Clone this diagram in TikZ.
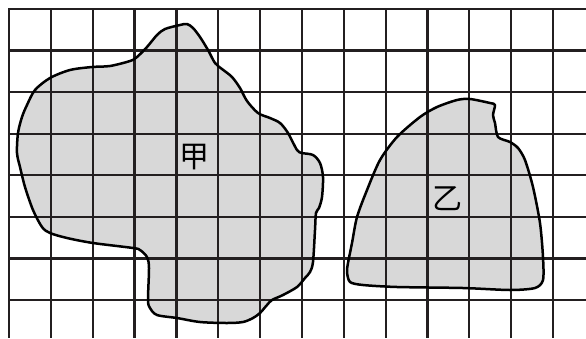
\documentclass[tikz,border=0pt]{standalone}
\usepackage{fontspec}
\newfontfamily\cjk{Noto Sans CJK SC}
\definecolor{gridc}{HTML}{231F20}
\definecolor{fillc}{HTML}{D8D8D8}
\tikzset{
  gridline/.style={draw=gridc, line width=2.2pt},
  blob/.style={draw=black, line width=2.5pt, line join=round},
  lbl/.style={font=\cjk\fontsize{30}{30}\selectfont, text=black, inner sep=0pt}
}
\begin{document}
\begin{tikzpicture}[x=1pt,y=-1pt]
\useasboundingbox (0,0) rectangle (586,338);
% fills
\fill[fillc] plot[smooth cycle, tension=0.5] coordinates {
(17,153) (18,133) (22,117) (27,105) (35,90) (50,78) (70,70) (92,67) (110,66) (130,61) (137,57) (147,47) (157,35) (165,29) (180,25) (187,24) (193,28) (200,37) (208,50) (215,63) (222,69) (232,77) (240,88) (247,101) (258,113) (270,118) (280,123) (288,133) (297,150) (302,153) (313,155) (320,163) (323,177) (322,197) (319,208) (316,213) (315,230) (313,262) (310,272) (305,278) (297,287) (283,295) (272,300) (267,305) (260,313) (253,318) (243,322) (227,323) (200,322) (177,318) (157,315) (150,308) (148,300) (149,268) (147,257) (140,250) (133,248) (93,243) (67,238) (50,233) (42,227) (33,210) (25,187) (20,167)};
\fill[fillc] plot[smooth cycle, tension=0.45] coordinates {
(347,272) (348,263) (352,243) (357,217) (367,190) (380,160) (397,137) (420,117) (437,107) (457,100) (470,99) (490,103) (495,105) (493,115) (495,123) (498,137) (510,142) (518,148) (525,160) (533,187) (540,223) (543,257) (543,280) (535,288) (510,290) (463,288) (397,287) (363,285) (350,282)};
% grid
\foreach \k in {0,...,13} {
  \draw[gridline] ({9+41.85*\k},8) -- ({9+41.85*\k},338);
}
\foreach \k in {0,...,7} {
  \draw[gridline] (8,{9+41.57*\k}) -- (586,{9+41.57*\k});
}
% outlines
\draw[blob] plot[smooth cycle, tension=0.5] coordinates {
(17,153) (18,133) (22,117) (27,105) (35,90) (50,78) (70,70) (92,67) (110,66) (130,61) (137,57) (147,47) (157,35) (165,29) (180,25) (187,24) (193,28) (200,37) (208,50) (215,63) (222,69) (232,77) (240,88) (247,101) (258,113) (270,118) (280,123) (288,133) (297,150) (302,153) (313,155) (320,163) (323,177) (322,197) (319,208) (316,213) (315,230) (313,262) (310,272) (305,278) (297,287) (283,295) (272,300) (267,305) (260,313) (253,318) (243,322) (227,323) (200,322) (177,318) (157,315) (150,308) (148,300) (149,268) (147,257) (140,250) (133,248) (93,243) (67,238) (50,233) (42,227) (33,210) (25,187) (20,167)};
\draw[blob] plot[smooth cycle, tension=0.45] coordinates {
(347,272) (348,263) (352,243) (357,217) (367,190) (380,160) (397,137) (420,117) (437,107) (457,100) (470,99) (490,103) (495,105) (493,115) (495,123) (498,137) (510,142) (518,148) (525,160) (533,187) (540,223) (543,257) (543,280) (535,288) (510,290) (463,288) (397,287) (363,285) (350,282)};
% labels
\node[lbl] (jia) at (194,157) {甲};
\node[lbl] (yi) at (447,199) {乙};
\end{tikzpicture}
\end{document}
